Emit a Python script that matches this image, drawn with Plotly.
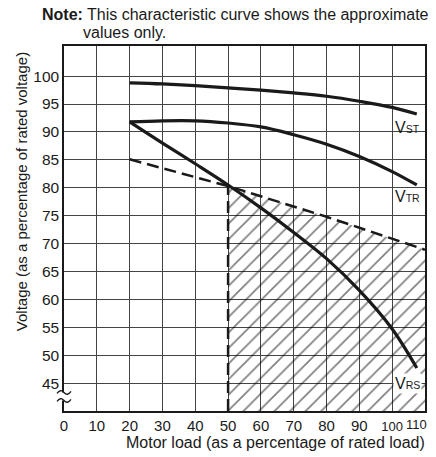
import plotly.graph_objects as go

# ---- data ----
load_x = [20, 30, 40, 50, 60, 70, 80, 90, 100, 107.5]
v_st = [98.8, 98.6, 98.3, 97.9, 97.5, 97.0, 96.4, 95.5, 94.4, 93.2]
v_tr = [91.8, 92.0, 92.0, 91.6, 90.9, 89.5, 87.8, 85.6, 82.9, 80.5]
v_rs = [91.8, 88.0, 84.3, 80.5, 76.4, 72.0, 67.3, 61.6, 54.7, 47.7]

boundary_x = [20, 50, 80, 110]
boundary_y = [85.1, 80.3, 74.8, 68.9]
min_load = 50

x_ticks = [0, 10, 20, 30, 40, 50, 60, 70, 80, 90, 100, 110]
y_ticks = [45, 50, 55, 60, 65, 70, 75, 80, 85, 90, 95, 100]
y_range = [40, 105.4]
x_range = [0, 110]
break_y = 42.6

FONT = "Liberation Sans, Arial, Helvetica, sans-serif"
INK = "#1a1a1a"

fig = go.Figure()

# hatched allowable region
hx = [min_load] + [x for x in boundary_x if x >= min_load] + [boundary_x[-1]]
hy = [y_range[0]] + [y for x, y in zip(boundary_x, boundary_y) if x >= min_load] + [y_range[0]]
fig.add_trace(go.Scatter(
    x=hx, y=hy, mode="lines", fill="toself", fillcolor="rgba(0,0,0,0)",
    fillpattern=dict(shape="/", fgcolor="#000", size=11, solidity=0.15, fillmode="overlay"),
    line=dict(width=0), hoverinfo="skip", showlegend=False))

# dashed boundary
fig.add_trace(go.Scatter(x=boundary_x, y=boundary_y, mode="lines",
                         line=dict(color=INK, width=2.5, dash="12px,6px"), showlegend=False))
fig.add_trace(go.Scatter(x=[min_load, min_load], y=[y_range[0], boundary_y[1]], mode="lines",
                         line=dict(color=INK, width=2.5, dash="12px,6px"), showlegend=False))

for ys in (v_st, v_tr, v_rs):
    fig.add_trace(go.Scatter(x=load_x, y=ys, mode="lines", line=dict(color=INK, width=3.2, shape="spline"),
                             showlegend=False))

x_text = []
for v in x_ticks:
    if v < 100:
        x_text.append(str(v))
    elif v == 100:
        x_text.append(f"<span style='font-size:13px'>{v}</span>")
    else:
        x_text.append("")

fig.update_xaxes(range=x_range, tickvals=x_ticks, ticktext=x_text, showgrid=True, gridcolor="#444",
                 gridwidth=1, showline=True, mirror=True, linecolor=INK, linewidth=1.5, zeroline=False,
                 ticks="", tickfont=dict(size=15, color=INK, family=FONT))
fig.update_yaxes(range=y_range, tickvals=y_ticks, showgrid=True, gridcolor="#444",
                 gridwidth=1, showline=True, mirror=True, linecolor=INK, linewidth=1.5, zeroline=False,
                 ticks="", tickfont=dict(size=15.5, color=INK, family=FONT))

ann = []
ann.append(dict(xref="paper", yref="paper", x=-0.066, y=1.0868, xanchor="left", yanchor="middle",
                text="<b>Note:</b> This characteristic curve shows the approximate", showarrow=False,
                font=dict(size=16, color=INK, family=FONT)))
ann.append(dict(xref="paper", yref="paper", x=0.047, y=1.037, xanchor="left", yanchor="middle",
                text="values only.", showarrow=False, font=dict(size=16, color=INK, family=FONT)))
ann.append(dict(xref="paper", yref="paper", x=-0.118, y=0.6005, xanchor="center", yanchor="middle",
                textangle=-90, text="Voltage (as a percentage of rated voltage)", showarrow=False,
                font=dict(size=15, color=INK, family=FONT)))
ann.append(dict(xref="paper", yref="paper", x=0.587, y=-0.085, xanchor="center", yanchor="middle",
                text="Motor load (as a percentage of rated load)", showarrow=False,
                font=dict(size=16, color=INK, family=FONT)))
# last x tick label, pulled inside the page like the reference
ann.append(dict(x=x_ticks[-1], y=0, yref="paper", xanchor="right", yanchor="top", yshift=-4, xshift=4,
                showarrow=False, text=str(x_ticks[-1]), font=dict(size=13, color=INK, family=FONT)))
for name, yv, bg in (("ST", 90.8, "rgba(0,0,0,0)"), ("TR", 78.5, "rgba(0,0,0,0)"), ("RS", 45.0, "white")):
    ann.append(dict(x=104.8, y=yv, xanchor="center", yanchor="middle", showarrow=False, bgcolor=bg,
                    borderpad=1,
                    text=f"V<span style='font-size:10.5px'>{name}</span>",
                    font=dict(size=16, color=INK, family=FONT)))

# axis-break symbol (two small waves interrupting the y axis), in paper coords so it is not clipped
break_py = (break_y - y_range[0]) / (y_range[1] - y_range[0])
shapes = [
    dict(type="rect", xref="paper", yref="paper", xsizemode="pixel", ysizemode="pixel",
         xanchor=0, yanchor=break_py, x0=-2.5, x1=2.5, y0=-4, y1=4,
         fillcolor="white", line=dict(width=0), layer="above"),
]
for dy in (4, -4):
    shapes.append(dict(type="path", xref="paper", yref="paper", xsizemode="pixel", ysizemode="pixel",
                       xanchor=0, yanchor=break_py,
                       path=f"M-7,{dy - 1} Q-3.5,{dy + 4} 0,{dy} T7,{dy + 1}",
                       line=dict(color=INK, width=1.3), layer="above"))

fig.update_layout(width=436, height=457, margin=dict(l=64, r=9, t=46, b=46),
                  paper_bgcolor="white", plot_bgcolor="white", annotations=ann, shapes=shapes,
                  font=dict(family=FONT, color=INK))

fig.write_html("out.html", config={"displayModeBar": False},
               post_script="document.body.style.margin='0px';")
